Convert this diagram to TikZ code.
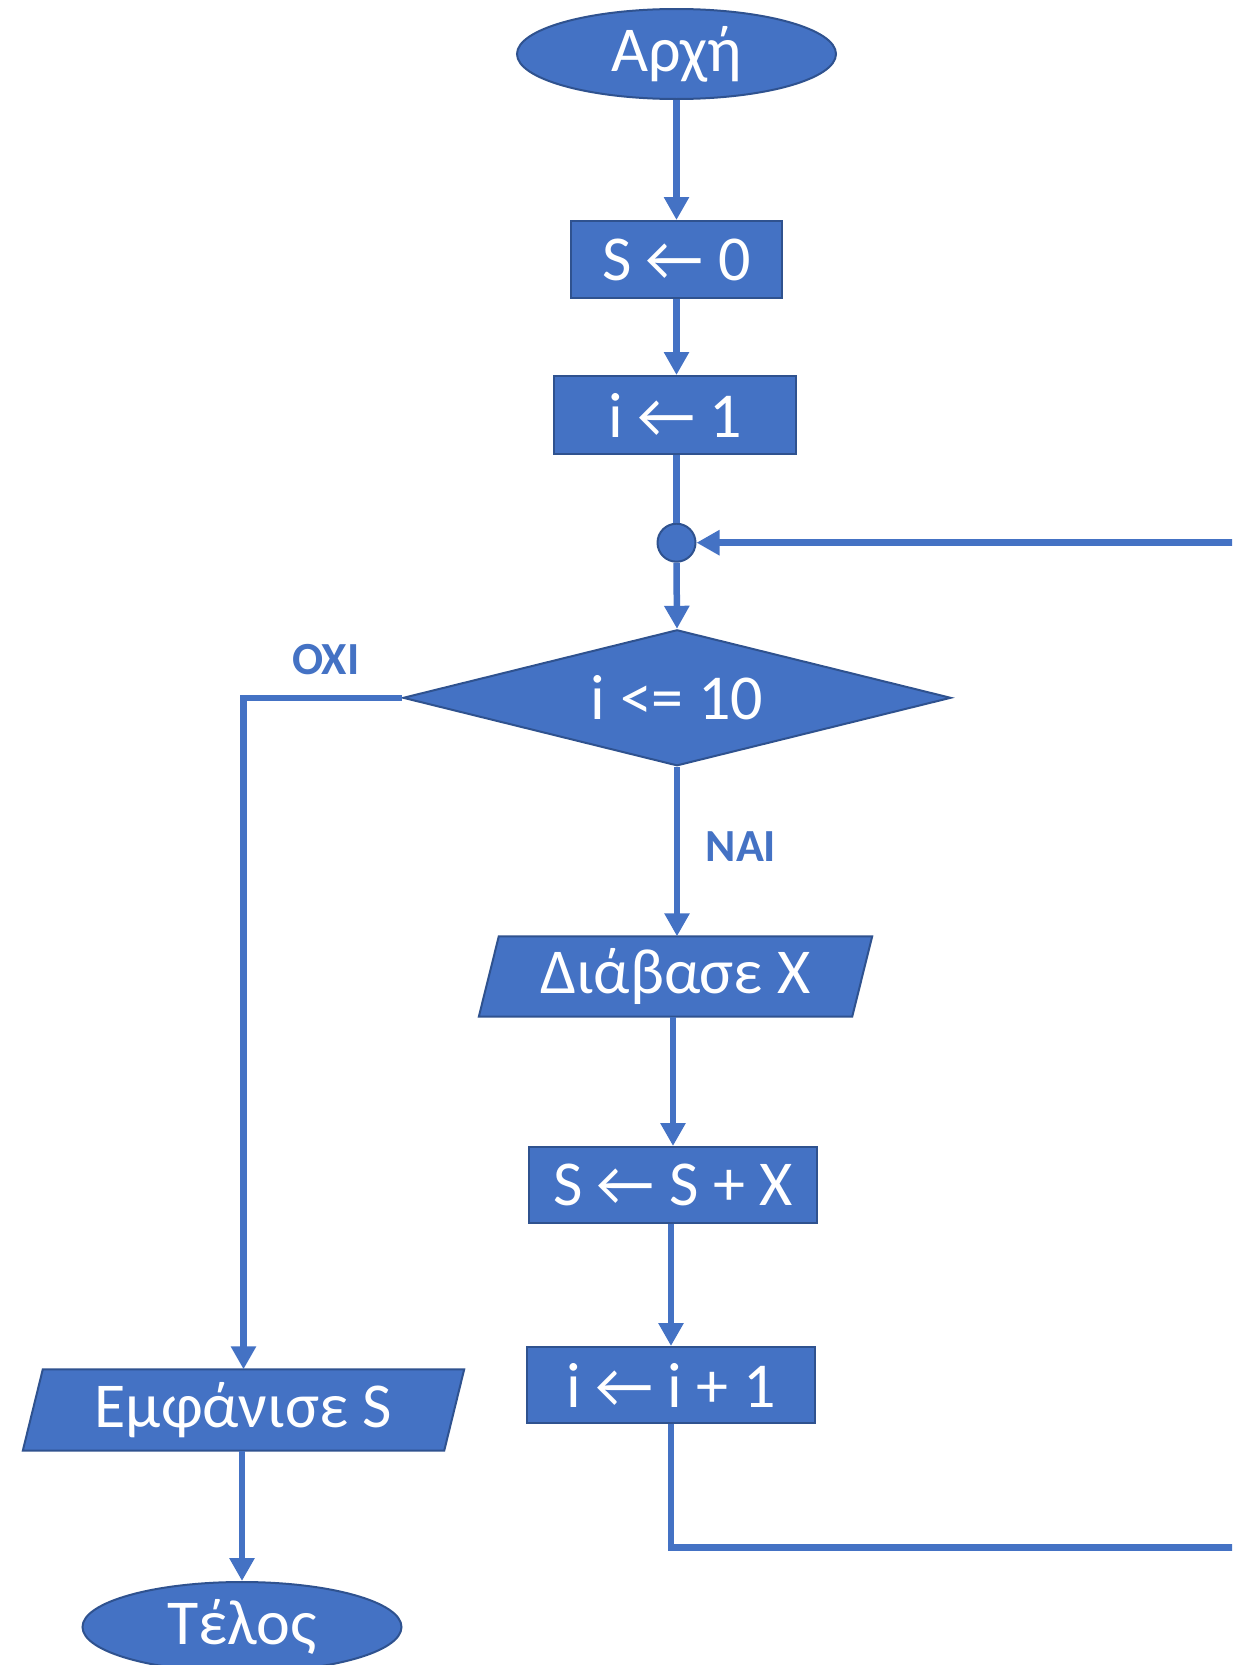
\documentclass[tikz,border=0pt]{standalone}
\usepackage{fontspec}
\setmainfont{Carlito}
\usetikzlibrary{shapes.geometric,arrows.meta}
\definecolor{ofblue}{HTML}{4472C4}
\definecolor{ofedge}{HTML}{2F528F}
\tikzset{
  shp/.style={fill=ofblue,draw=ofedge,line width=2pt,text=white,inner sep=0pt,font=\fontsize{64}{70}\selectfont},
  term/.style={shp,ellipse,minimum width=319pt,minimum height=90pt},
  proc/.style={shp,rectangle,minimum height=77pt},
  iotext/.style={rectangle,text=white,inner sep=0pt,minimum height=80pt,font=\fontsize{64}{70}\selectfont},
  iofill/.style={fill=ofblue,draw=ofedge,line width=2pt},
  dec/.style={shp,diamond,aspect=4.03,minimum width=548pt,minimum height=136pt},
  junc/.style={fill=ofblue,draw=ofedge,line width=2pt,circle,minimum size=38pt,inner sep=0pt},
  conn/.style={draw=ofblue,line width=6.5pt},
  arr/.style={conn,-{Triangle[length=23pt,width=24pt]}},
  lbl/.style={text=ofblue,font=\fontsize{46}{50}\selectfont\bfseries}
}
\begin{document}
\begin{tikzpicture}[x=1pt,y=-1pt]
\path[use as bounding box,clip] (0,0) rectangle (1232,1665);
\node[term] (start) at (676.5,54) {Αρχή};
\node[proc,minimum width=211pt] (s0) at (676.5,259.5) {S ← 0};
\node[proc,minimum width=242pt,minimum height=78pt] (i1) at (675,415) {i ← 1};
\node[junc] (merge) at (676.5,542.7) {};
\node[dec] (cond) at (677,697.8) {i <= 10};
% input parallelogram: Διάβασε X
\node[iotext,minimum width=373pt] (read) at (675.5,976.5) {};
\draw[iofill] ([xshift=10pt]read.north west) -- ([xshift=10pt]read.north east)
  -- ([xshift=-10pt]read.south east) -- ([xshift=-10pt]read.south west) -- cycle;
\node[iotext] (readtxt) at (read.center) {Διάβασε X};
\node[proc,minimum width=288pt,minimum height=76pt] (add) at (673,1185) {S ← S + X};
\node[proc,minimum width=288pt,minimum height=76pt] (inc) at (671,1385) {i ← i + 1};
% output parallelogram: Εμφάνισε S
\node[iotext,minimum width=421pt,minimum height=81pt] (disp) at (243.5,1410) {};
\draw[iofill] ([xshift=10pt]disp.north west) -- ([xshift=10pt]disp.north east)
  -- ([xshift=-10pt]disp.south east) -- ([xshift=-10pt]disp.south west) -- cycle;
\node[iotext] (disptxt) at (disp.center) {Εμφάνισε S};
\node[term] (end) at (242,1627) {Τέλος};
\node[lbl] (oxi) at (326,659.6) {OXI};
\node[lbl] (nai) at (741,846.5) {NAI};
\coordinate (loopbot) at (1260,1547.5);
\draw[arr] (start.south) -- (s0.north);
\draw[arr] (s0.south) -- (s0.south |- i1.north);
\draw[conn] (i1.south -| merge) -- (merge.north);
\draw[arr] (merge.south) -- (cond.north);
\draw[arr] (cond.south) -- (cond.south |- read.north);
\draw[arr] (read.south -| add) -- (add.north);
\draw[arr] (add.south -| inc) -- (inc.north);
\draw[arr] (inc.south) |- (loopbot) |- (merge.east);
\draw[arr] (cond.west) -| (disp.north);
\draw[arr] (disp.south -| end) -- (end.north);
\end{tikzpicture}
\end{document}
